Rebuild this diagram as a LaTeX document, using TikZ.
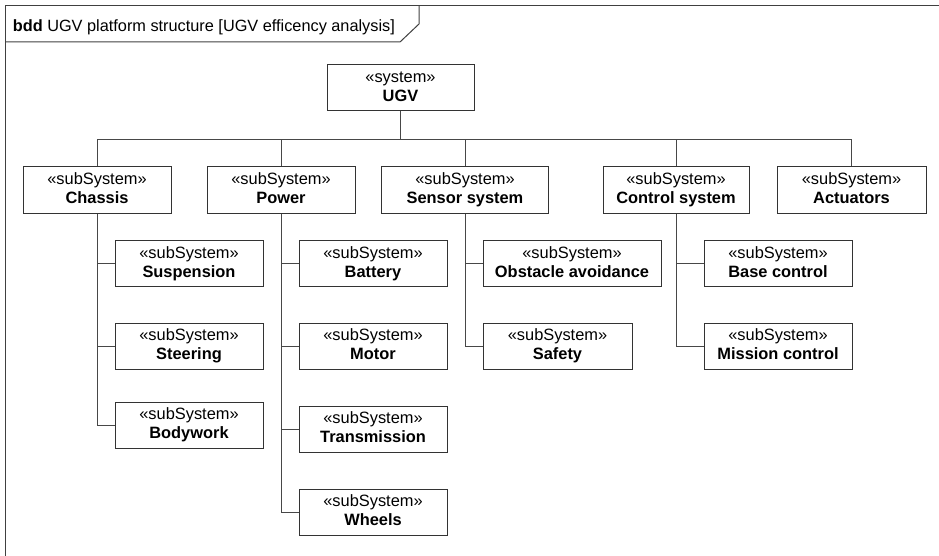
\documentclass[tikz,border=0pt]{standalone}
\usepackage{fontspec}
\setmainfont{Liberation Sans}
\newcommand\sbx[2]{\rule{0pt}{12pt}«#1»\\\textbf{#2}\rule[-3.5pt]{0pt}{3.5pt}}
\tikzset{
  blk/.style={draw=black!80, line width=1pt, fill=white, rectangle, minimum height=46pt,
    inner sep=0pt, align=center, font=\fontsize{16.4}{19}\selectfont},
  conn/.style={draw=black!72, line width=1pt},
  frm/.style={draw=black!75, line width=1pt}
}
\begin{document}
\begin{tikzpicture}[x=1pt,y=-1pt]
\useasboundingbox (0,0) rectangle (939,556);
% frame
\draw[frm] (939,5.5) -- (5.5,5.5) -- (5.5,556);
\draw[frm] (5.5,42) -- (400,42) -- (419,24) -- (419,5.5);
\node[anchor=base west, inner sep=0pt, font=\fontsize{16.3}{19}\selectfont] (title) at (12.7,31.7)
  {\textbf{bdd} UGV platform structure [UGV efficency analysis]};
% top
\node[blk, minimum width=147pt] (ugv) at (400.5,88) {\sbx{system}{UGV}};
% row 1
\node[blk, minimum width=148pt] (chassis) at (97,190) {\sbx{subSystem}{Chassis}};
\node[blk, minimum width=148pt] (power) at (281,190) {\sbx{subSystem}{Power}};
\node[blk, minimum width=167pt] (sensor) at (465,190) {\sbx{subSystem}{Sensor system}};
\node[blk, minimum width=146pt] (control) at (676,190) {\sbx{subSystem}{Control system}};
\node[blk, minimum width=149pt] (act) at (851.5,190) {\sbx{subSystem}{Actuators}};
% chassis children
\node[blk, minimum width=148pt] (susp) at (189,263.5) {\sbx{subSystem}{Suspension}};
\node[blk, minimum width=148pt] (steer) at (189,346) {\sbx{subSystem}{Steering}};
\node[blk, minimum width=148pt] (body) at (189,425) {\sbx{subSystem}{Bodywork}};
% power children
\node[blk, minimum width=148pt] (batt) at (373,263.5) {\sbx{subSystem}{Battery}};
\node[blk, minimum width=148pt] (motor) at (373,346) {\sbx{subSystem}{Motor}};
\node[blk, minimum width=148pt] (trans) at (373,429) {\sbx{subSystem}{Transmission}};
\node[blk, minimum width=148pt] (wheels) at (373,512) {\sbx{subSystem}{Wheels}};
% sensor children
\node[blk, minimum width=178pt] (obst) at (572,263.5) {\sbx{subSystem}{Obstacle avoidance}};
\node[blk, minimum width=149pt] (safety) at (557.5,346) {\sbx{subSystem}{Safety}};
% control children
\node[blk, minimum width=148pt] (base) at (778,263.5) {\sbx{subSystem}{Base control}};
\node[blk, minimum width=148pt] (mission) at (778,346) {\sbx{subSystem}{Mission control}};
% connectors
\foreach \c in {chassis,power,sensor,control,act}
  \draw[conn] (ugv.south) -- ++(0,28) -| (\c.north);
\foreach \c in {susp,steer,body}
  \draw[conn] (chassis.south) |- (\c.west);
\foreach \c in {batt,motor,trans,wheels}
  \draw[conn] (power.south) |- (\c.west);
\foreach \c in {obst,safety}
  \draw[conn] (sensor.south) |- (\c.west);
\foreach \c in {base,mission}
  \draw[conn] (control.south) |- (\c.west);
\end{tikzpicture}
\end{document}
